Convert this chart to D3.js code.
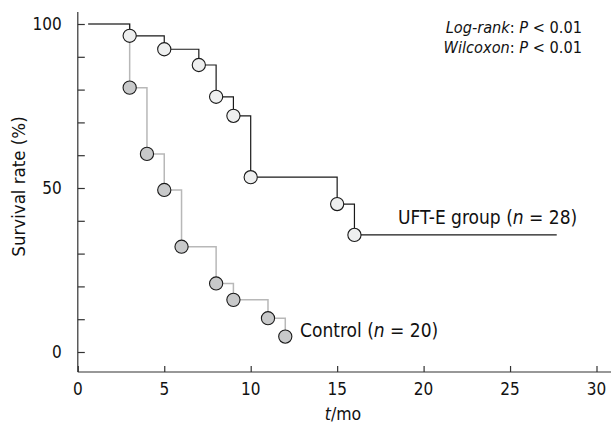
<!DOCTYPE html>
<html>
<head>
<meta charset="utf-8">
<script src="https://cdnjs.cloudflare.com/ajax/libs/d3/7.8.5/d3.min.js"></script>
<style>
    body { margin: 0; background: #fff; }
    svg { display: block; }
    text { font-family: "DejaVu Sans Condensed", "DejaVu Sans", sans-serif; font-stretch: condensed; fill: #111; }
</style>
</head>
<body>
<svg></svg>
<script>
//-------------------
// DATA
//-------------------
var ufteTimes = [3, 5, 7, 8, 9, 10, 15, 16];
var ufteSurvival = [96.4, 92.3, 87.5, 77.8, 72.0, 53.3, 45.1, 35.7];
var ufteStart = 0.6, ufteEnd = 27.7;

var controlTimes = [3, 4, 5, 6, 8, 9, 11, 12];
var controlSurvival = [80.6, 60.4, 49.4, 32.1, 20.9, 15.9, 10.3, 4.7];
var controlStart = 0.6;

var xTicks = [0, 5, 10, 15, 20, 25, 30];
var yTicks = [0, 10, 20, 30, 40, 50, 60, 70, 80, 90, 100];
var yLabels = [0, 50, 100];

//-------------------
// GLOBAL VARIABLES
//-------------------
var width = 611,
    height = 425;

var svg = d3.select("svg")
    .attr("width", width)
    .attr("height", height);

var x = d3.scaleLinear().domain([0, 30]).range([77.8, 596.5]);
var y = d3.scaleLinear().domain([0, 100]).range([352, 24]);
var axisY = 372;

//------------
// AXES
//------------
var xAxis = d3.axisTop(x)
    .tickValues(xTicks)
    .tickSize(6)
    .tickFormat("");
var gx = svg.append("g")
    .attr("transform", "translate(0," + axisY + ")")
    .call(xAxis);
gx.select(".domain").remove();
gx.append("line")
    .attr("x1", x(0)).attr("x2", width)
    .attr("y1", 0).attr("y2", 0);

gx.selectAll(".xlabel").data(xTicks)
    .enter().append("text")
    .attr("class", "xlabel")
    .attr("x", d => x(d))
    .attr("y", 23)
    .attr("text-anchor", "middle")
    .style("font-size", "17px")
    .text(d => d);

var yAxis = d3.axisRight(y)
    .tickValues(yTicks)
    .tickSize(7)
    .tickFormat("");
var gy = svg.append("g")
    .attr("transform", "translate(" + x(0) + ",0)")
    .call(yAxis);
gy.select(".domain").remove();
gy.append("line")
    .attr("x1", 0).attr("x2", 0)
    .attr("y1", 12).attr("y2", axisY);

gy.selectAll(".ylabel").data(yLabels)
    .enter().append("text")
    .attr("class", "ylabel")
    .attr("x", -16)
    .attr("y", d => y(d))
    .attr("dy", "0.36em")
    .attr("text-anchor", "end")
    .style("font-size", "17px")
    .text(d => d);

svg.selectAll("g line")
    .attr("stroke", "#333")
    .attr("stroke-width", 1.2);

//------------
// AXIS TITLES
//------------
svg.append("text")
    .attr("transform", "translate(25,186.5) rotate(-90)")
    .attr("text-anchor", "middle")
    .style("font-size", "18.5px")
    .text("Survival rate (%)");

var xTitle = svg.append("text")
    .attr("x", 343)
    .attr("y", 420)
    .attr("text-anchor", "middle")
    .style("font-size", "17.5px");
xTitle.append("tspan").style("font-style", "italic").text("t");
xTitle.append("tspan").text("/mo");

//----------------------
// SURVIVAL CURVES
//----------------------
var step = d3.line()
    .x(d => x(d[0]))
    .y(d => y(d[1]))
    .curve(d3.curveStepAfter);

var controlPts = [[controlStart, 100]].concat(controlTimes.map((t, i) => [t, controlSurvival[i]]));
var uftePts = [[ufteStart, 100]].concat(ufteTimes.map((t, i) => [t, ufteSurvival[i]]));
uftePts.push([ufteEnd, ufteSurvival[ufteSurvival.length - 1]]);

svg.append("path")
    .datum(controlPts)
    .attr("fill", "none")
    .attr("stroke", "#b8b8b8")
    .attr("stroke-width", 1.5)
    .attr("d", step);

svg.append("path")
    .datum(uftePts)
    .attr("fill", "none")
    .attr("stroke", "#1a1a1a")
    .attr("stroke-width", 1.2)
    .attr("d", step);

svg.selectAll("circle.control").data(controlTimes)
    .enter().append("circle")
    .attr("class", "control")
    .attr("cx", d => x(d))
    .attr("cy", (d, i) => y(controlSurvival[i]))
    .attr("r", 6.6)
    .attr("fill", "#c8c9ca")
    .attr("stroke", "#1a1a1a")
    .attr("stroke-width", 1.1);

svg.selectAll("circle.ufte").data(ufteTimes)
    .enter().append("circle")
    .attr("class", "ufte")
    .attr("cx", d => x(d))
    .attr("cy", (d, i) => y(ufteSurvival[i]))
    .attr("r", 6.6)
    .attr("fill", "#eeefef")
    .attr("stroke", "#1a1a1a")
    .attr("stroke-width", 1.1);

//--------------------
// LABELS
//--------------------
function nLabel(px, py, name, n) {
    var t = svg.append("text")
        .attr("x", px)
        .attr("y", py)
        .style("font-size", "19px");
    t.append("tspan").text(name + " (");
    t.append("tspan").style("font-style", "italic").text("n");
    t.append("tspan").text(" = " + n + ")");
}
nLabel(398, 224, "UFT-E group", 28);
nLabel(300, 337, "Control", 20);

function pLabel(py, test) {
    var t = svg.append("text")
        .attr("x", 582)
        .attr("y", py)
        .attr("text-anchor", "end")
        .style("font-size", "16.2px");
    t.append("tspan").style("font-style", "italic").text(test);
    t.append("tspan").text(": ");
    t.append("tspan").style("font-style", "italic").text("P");
    t.append("tspan").text(" < 0.01");
}
pLabel(32.5, "Log-rank");
pLabel(52.5, "Wilcoxon");
</script>
</body>
</html>
